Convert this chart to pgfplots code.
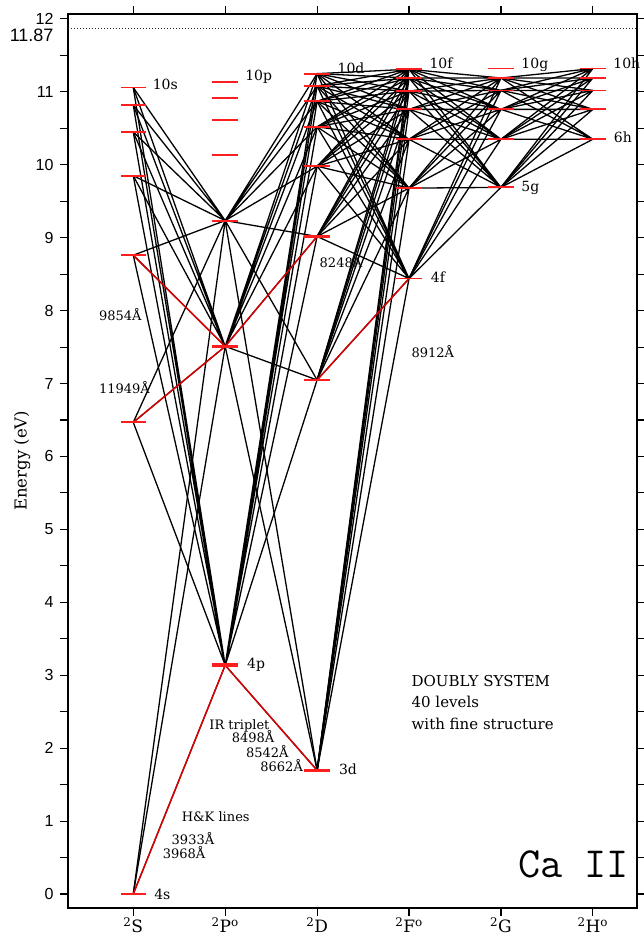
\documentclass[border=0pt]{standalone}
\usepackage{fontspec}
\setmainfont{DejaVu Serif}
\newfontfamily\numfont{Liberation Sans}
\usepackage{pgfplots}
\pgfplotsset{compat=1.18}
\definecolor{lvl}{HTML}{FF1E1E}
\definecolor{trn}{HTML}{E00000}
\newcommand\lv{\fontsize{14}{14}\selectfont}
\newcommand\wl{\fontsize{13}{13}\selectfont}
\newcommand\tx{\fontsize{15}{15}\selectfont}

\begin{document}
\begin{tikzpicture}
\begin{axis}[
  at={(0,0)}, anchor=south west,
  scale only axis, width=569pt, height=894pt,
  xmin=-0.71, xmax=5.48, ymin=-0.192, ymax=12.068,
  clip=false,
  axis line style={line width=1.3pt},
  tick align=outside, major tick length=8pt, minor tick length=8pt,
  every tick/.style={black, line width=1.1pt},
  xtick={0,1,2,3,4,5},
  xticklabels={\textsuperscript{2}S,\textsuperscript{2}P\textsuperscript{o},\textsuperscript{2}D,\textsuperscript{2}F\textsuperscript{o},\textsuperscript{2}G,\textsuperscript{2}H\textsuperscript{o}},
  xtick pos=both, xticklabel pos=lower,
  xticklabel style={font=\fontsize{17}{17}\selectfont, yshift=2pt},
  ytick={0,1,2,3,4,5,6,7,8,9,10,11,12}, minor y tick num=1,
  ytick pos=both, yticklabel pos=left,
  yticklabel style={font=\fontsize{16}{16}\selectfont\numfont, xshift=-3pt},
  /pgf/number format/assume math mode=true,
  extra y ticks={11.87}, extra y tick labels={11.87},
  extra y tick style={major tick length=0pt, yticklabel style={font=\fontsize{18}{18}\selectfont\numfont, xshift=-8pt, yshift=-7pt}},
  every axis plot/.append style={line join=round},
]
% ionisation limit
\addplot[black!85, line width=0.8pt, dash pattern=on 0.9pt off 2.1pt] coordinates {(-0.71,11.87) (5.48,11.87)};

% energy levels
\addplot[only marks, mark=-, mark size=12.7pt, mark options={lvl, line width=1.8pt}] coordinates {
 (0,0) (0,6.468) (0,8.76) (0,9.85) (0,10.45) (0,10.82) (0,11.06)
 (1,3.123) (1,3.151) (1,7.505) (1,7.514) (1,9.234) (1,9.237) (1,10.13) (1,10.61) (1,10.92) (1,11.13)
 (2,1.692) (2,1.700) (2,7.047) (2,7.050) (2,9.015) (2,9.018) (2,9.98) (2,10.52) (2,10.87) (2,11.08) (2,11.25)
 (3,8.44) (3,9.68) (3,10.35) (3,10.76) (3,11.01) (3,11.19) (3,11.31)
 (4,9.69) (4,10.35) (4,10.76) (4,11.02) (4,11.19) (4,11.32)
 (5,10.35) (5,10.76) (5,11.02) (5,11.19) (5,11.32)};

% S - P transitions (stars from each P level)
\addplot[black, line width=1.3pt] coordinates {(1,3.137)(0,0)(1,3.137)(0,6.468)(1,3.137)(0,8.76)(1,3.137)(0,9.85)(1,3.137)(0,10.45)(1,3.137)(0,10.82)(1,3.137)(0,11.06)};
\addplot[black, line width=1.3pt] coordinates {(1,7.51)(0,0)(1,7.51)(0,6.468)(1,7.51)(0,8.76)(1,7.51)(0,9.85)(1,7.51)(0,10.45)(1,7.51)(0,10.82)(1,7.51)(0,11.06)};
\addplot[black, line width=1.3pt] coordinates {(1,9.235)(0,0)(1,9.235)(0,6.468)(1,9.235)(0,8.76)(1,9.235)(0,9.85)(1,9.235)(0,10.45)(1,9.235)(0,10.82)(1,9.235)(0,11.06)};

% P - D transitions
\addplot[black, line width=1.3pt] coordinates {(1,3.137)(2,1.696)(1,3.137)(2,7.049)(1,3.137)(2,9.017)(1,3.137)(2,9.98)(1,3.137)(2,10.52)(1,3.137)(2,10.87)(1,3.137)(2,11.08)(1,3.137)(2,11.25)};
\addplot[black, line width=1.3pt] coordinates {(1,7.51)(2,1.696)(1,7.51)(2,7.049)(1,7.51)(2,9.017)(1,7.51)(2,9.98)(1,7.51)(2,10.52)(1,7.51)(2,10.87)(1,7.51)(2,11.08)(1,7.51)(2,11.25)};
\addplot[black, line width=1.3pt] coordinates {(1,9.235)(2,1.696)(1,9.235)(2,7.049)(1,9.235)(2,9.017)(1,9.235)(2,9.98)(1,9.235)(2,10.52)(1,9.235)(2,10.87)(1,9.235)(2,11.08)(1,9.235)(2,11.25)};

% D - F transitions
\addplot[black, line width=1.3pt] coordinates {(3,8.44)(2,1.696)(3,8.44)(2,7.049)(3,8.44)(2,9.017)(3,8.44)(2,9.98)(3,8.44)(2,10.52)(3,8.44)(2,10.87)(3,8.44)(2,11.08)(3,8.44)(2,11.25)};
\addplot[black, line width=1.3pt] coordinates {(3,9.68)(2,1.696)(3,9.68)(2,7.049)(3,9.68)(2,9.017)(3,9.68)(2,9.98)(3,9.68)(2,10.52)(3,9.68)(2,10.87)(3,9.68)(2,11.08)(3,9.68)(2,11.25)};
\addplot[black, line width=1.3pt] coordinates {(3,10.35)(2,1.696)(3,10.35)(2,7.049)(3,10.35)(2,9.017)(3,10.35)(2,9.98)(3,10.35)(2,10.52)(3,10.35)(2,10.87)(3,10.35)(2,11.08)(3,10.35)(2,11.25)};
\addplot[black, line width=1.3pt] coordinates {(3,10.76)(2,1.696)(3,10.76)(2,7.049)(3,10.76)(2,9.017)(3,10.76)(2,9.98)(3,10.76)(2,10.52)(3,10.76)(2,10.87)(3,10.76)(2,11.08)(3,10.76)(2,11.25)};
\addplot[black, line width=1.3pt] coordinates {(3,11.01)(2,1.696)(3,11.01)(2,7.049)(3,11.01)(2,9.017)(3,11.01)(2,9.98)(3,11.01)(2,10.52)(3,11.01)(2,10.87)(3,11.01)(2,11.08)(3,11.01)(2,11.25)};
\addplot[black, line width=1.3pt] coordinates {(3,11.19)(2,1.696)(3,11.19)(2,7.049)(3,11.19)(2,9.017)(3,11.19)(2,9.98)(3,11.19)(2,10.52)(3,11.19)(2,10.87)(3,11.19)(2,11.08)(3,11.19)(2,11.25)};
\addplot[black, line width=1.3pt] coordinates {(3,11.31)(2,1.696)(3,11.31)(2,7.049)(3,11.31)(2,9.017)(3,11.31)(2,9.98)(3,11.31)(2,10.52)(3,11.31)(2,10.87)(3,11.31)(2,11.08)(3,11.31)(2,11.25)};

% F - G transitions
\addplot[black, line width=1.3pt] coordinates {(4,9.69)(3,8.44)(4,9.69)(3,9.68)(4,9.69)(3,10.35)(4,9.69)(3,10.76)(4,9.69)(3,11.01)(4,9.69)(3,11.19)(4,9.69)(3,11.31)};
\addplot[black, line width=1.3pt] coordinates {(4,10.35)(3,8.44)(4,10.35)(3,9.68)(4,10.35)(3,10.35)(4,10.35)(3,10.76)(4,10.35)(3,11.01)(4,10.35)(3,11.19)(4,10.35)(3,11.31)};
\addplot[black, line width=1.3pt] coordinates {(4,10.76)(3,8.44)(4,10.76)(3,9.68)(4,10.76)(3,10.35)(4,10.76)(3,10.76)(4,10.76)(3,11.01)(4,10.76)(3,11.19)(4,10.76)(3,11.31)};
\addplot[black, line width=1.3pt] coordinates {(4,11.02)(3,8.44)(4,11.02)(3,9.68)(4,11.02)(3,10.35)(4,11.02)(3,10.76)(4,11.02)(3,11.01)(4,11.02)(3,11.19)(4,11.02)(3,11.31)};
\addplot[black, line width=1.3pt] coordinates {(4,11.19)(3,8.44)(4,11.19)(3,9.68)(4,11.19)(3,10.35)(4,11.19)(3,10.76)(4,11.19)(3,11.01)(4,11.19)(3,11.19)(4,11.19)(3,11.31)};

% G - H transitions
\addplot[black, line width=1.3pt] coordinates {(5,10.35)(4,9.69)(5,10.35)(4,10.35)(5,10.35)(4,10.76)(5,10.35)(4,11.02)(5,10.35)(4,11.19)};
\addplot[black, line width=1.3pt] coordinates {(5,10.76)(4,9.69)(5,10.76)(4,10.35)(5,10.76)(4,10.76)(5,10.76)(4,11.02)(5,10.76)(4,11.19)};
\addplot[black, line width=1.3pt] coordinates {(5,11.02)(4,9.69)(5,11.02)(4,10.35)(5,11.02)(4,10.76)(5,11.02)(4,11.02)(5,11.02)(4,11.19)};
\addplot[black, line width=1.3pt] coordinates {(5,11.19)(4,9.69)(5,11.19)(4,10.35)(5,11.19)(4,10.76)(5,11.19)(4,11.02)(5,11.19)(4,11.19)};
\addplot[black, line width=1.3pt] coordinates {(5,11.32)(4,9.69)(5,11.32)(4,10.35)(5,11.32)(4,10.76)(5,11.32)(4,11.02)(5,11.32)(4,11.19)};

% strong lines in red
\addplot[trn, line width=1.4pt] coordinates {(0,0) (1,3.137)};
\addplot[trn, line width=1.4pt] coordinates {(1,3.137) (2,1.696)};
\addplot[trn, line width=1.4pt] coordinates {(0,6.468) (1,7.51)};
\addplot[trn, line width=1.4pt] coordinates {(0,8.76) (1,7.51)};
\addplot[trn, line width=1.4pt] coordinates {(1,7.51) (2,9.017)};
\addplot[trn, line width=1.4pt] coordinates {(2,7.049) (3,8.44)};

% level names
\node[anchor=base west, font=\lv] at (axis cs:0.174,11.03) {10s};
\node[anchor=base west, font=\lv] at (axis cs:1.18,11.15) {10p};
\node[anchor=base west, font=\lv] at (axis cs:2.185,11.25) {10d};
\node[anchor=base west, font=\lv] at (axis cs:3.185,11.32) {10f};
\node[anchor=base west, font=\lv] at (axis cs:4.185,11.32) {10g};
\node[anchor=base west, font=\lv] at (axis cs:5.185,11.32) {10h};
\node[anchor=base west, font=\lv] at (axis cs:5.19,10.30) {6h};
\node[anchor=base west, font=\lv] at (axis cs:4.185,9.64) {5g};
\node[anchor=base west, font=\lv] at (axis cs:3.2,8.38) {4f};
\node[anchor=base west, font=\lv] at (axis cs:1.2,3.09) {4p};
\node[anchor=base west, font=\lv] at (axis cs:2.2,1.645) {3d};
\node[anchor=base west, font=\lv] at (axis cs:0.19,-0.07) {4s};

% wavelengths
\node[anchor=base west, font=\wl] at (axis cs:-0.41,7.87) {9854Å};
\node[anchor=base west, font=\wl] at (axis cs:-0.41,6.87) {11949Å};
\node[anchor=base west, font=\wl] at (axis cs:1.99,8.585) {8248Å};
\node[anchor=base west, font=\wl] at (axis cs:2.99,7.36) {8912Å};
\node[anchor=base west, font=\wl] at (axis cs:0.79,2.26) {IR triplet};
\node[anchor=base west, font=\wl] at (axis cs:1.033,2.075) {8498Å};
\node[anchor=base west, font=\wl] at (axis cs:1.188,1.875) {8542Å};
\node[anchor=base west, font=\wl] at (axis cs:1.345,1.675) {8662Å};
\node[anchor=base west, font=\wl] at (axis cs:0.49,0.99) {H\&K lines};
\node[anchor=base west, font=\wl] at (axis cs:0.38,0.672) {3933Å};
\node[anchor=base west, font=\wl] at (axis cs:0.283,0.48) {3968Å};

% notes
\node[anchor=base west, font=\tx] at (axis cs:2.99,2.84) {DOUBLY SYSTEM};
\node[anchor=base west, font=\tx] at (axis cs:2.99,2.555) {40 levels};
\node[anchor=base west, font=\tx] at (axis cs:2.99,2.25) {with fine structure};
\node[anchor=base west, font=\ttfamily\fontsize{43}{43}\selectfont] at (axis cs:4.15,0.22) {Ca II};
\node[rotate=90, font=\fontsize{16.5}{16.5}\selectfont] at (axis cs:-1.207,5.94) {Energy (eV)};
\end{axis}
\pgfresetboundingbox
\path[use as bounding box] (-68pt,-28pt) rectangle (576pt,908pt);
\end{tikzpicture}
\end{document}
